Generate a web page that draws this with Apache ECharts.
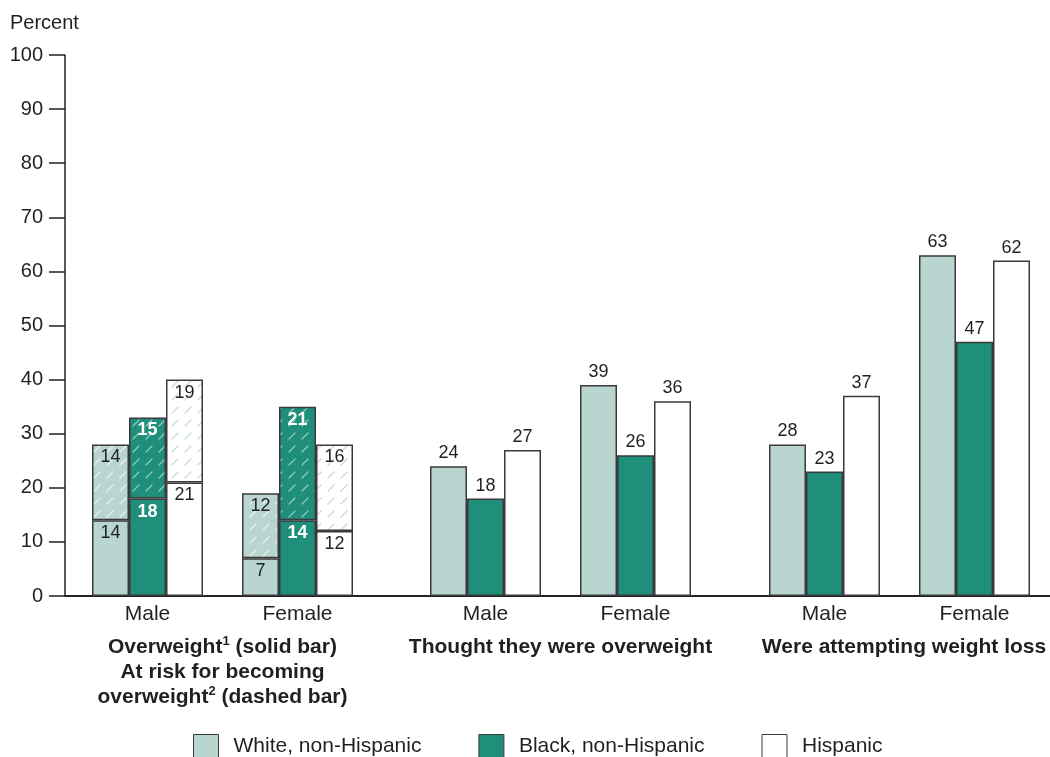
<!DOCTYPE html>
<html>
<head>
<meta charset="utf-8">
<script src="https://cdn.jsdelivr.net/npm/echarts@6/dist/echarts.min.js"></script>
<style>
  html, body { margin: 0; padding: 0; background: #fff; }
  #chart { width: 1050px; height: 757px; }
</style>
</head>
<body>
<div id="chart"></div>
<script>
// Categories and labels
const sexes = ['Male', 'Female'];
const races = ['White, non-Hispanic', 'Black, non-Hispanic', 'Hispanic'];
const yTicks = [0, 10, 20, 30, 40, 50, 60, 70, 80, 90, 100];

// Overweight (solid) and at risk for becoming overweight (dashed), by sex
const overweightWhite = [14, 7];
const overweightBlack = [18, 14];
const overweightHispanic = [21, 12];
const atRiskWhite = [14, 12];
const atRiskBlack = [15, 21];
const atRiskHispanic = [19, 16];

// Thought they were overweight
const thoughtWhite = [24, 39];
const thoughtBlack = [18, 26];
const thoughtHispanic = [27, 36];

// Were attempting weight loss
const attemptWhite = [28, 63];
const attemptBlack = [23, 47];
const attemptHispanic = [37, 62];

const FONT = '"Liberation Sans", Arial, Helvetica, sans-serif';
const TEXT = '#231f20';
const EDGE = '#3a3a3a';
const fills = ['#b9d5cf', '#1f8f7c', '#ffffff'];
const hatchLines = ['#e6f1ee', '#8ccabd', '#c6dcd7'];

// Diagonal dashed hatch tile for the "at risk" segments
function hatch(bg, line) {
  const c = document.createElement('canvas');
  c.width = 13; c.height = 13;
  const g = c.getContext('2d');
  g.fillStyle = bg;
  g.fillRect(0, 0, 13, 13);
  g.strokeStyle = line;
  g.lineWidth = 1.3;
  g.lineCap = 'round';
  g.beginPath();
  g.moveTo(3, 10);
  g.lineTo(9, 4);
  g.stroke();
  return { image: c, repeat: 'repeat' };
}

const chart = echarts.init(document.getElementById('chart'));

function barBase(i, axis) {
  return {
    type: 'bar',
    name: races[i],
    xAxisIndex: axis,
    yAxisIndex: axis,
    barWidth: 37,
    barGap: '0%',
    itemStyle: { color: fills[i], borderColor: EDGE, borderWidth: 1.5 },
    emphasis: { disabled: true }
  };
}

function insideLabel(i) {
  return {
    show: true,
    position: 'insideTop',
    distance: 4,
    fontFamily: FONT,
    fontSize: 18,
    color: i === 1 ? '#ffffff' : TEXT,
    fontWeight: i === 1 ? 'bold' : 'normal'
  };
}

function topLabel() {
  return { show: true, position: 'top', distance: 4, fontFamily: FONT, fontSize: 18, color: TEXT };
}

const series = [];
const solidSets = [overweightWhite, overweightBlack, overweightHispanic];
const dashedSets = [atRiskWhite, atRiskBlack, atRiskHispanic];
for (let i = 0; i < 3; i++) {
  series.push(Object.assign(barBase(i, 1), { stack: 's' + i, data: solidSets[i], label: insideLabel(i) }));
  const d = barBase(i, 1);
  d.itemStyle = { color: hatch(fills[i], hatchLines[i]), borderColor: EDGE, borderWidth: 1.5 };
  series.push(Object.assign(d, { stack: 's' + i, data: dashedSets[i], label: insideLabel(i) }));
}
const thoughtSets = [thoughtWhite, thoughtBlack, thoughtHispanic];
const attemptSets = [attemptWhite, attemptBlack, attemptHispanic];
for (let i = 0; i < 3; i++) {
  series.push(Object.assign(barBase(i, 2), { data: thoughtSets[i], label: topLabel() }));
}
for (let i = 0; i < 3; i++) {
  series.push(Object.assign(barBase(i, 3), { data: attemptSets[i], label: topLabel() }));
}

function groupNameStyle(shift) {
  return {
    fontFamily: FONT,
    fontSize: 21,
    fontWeight: 'bold',
    color: TEXT,
    lineHeight: 25,
    padding: [0, 0, 0, shift],
    rich: {
      sup: { fontFamily: FONT, fontSize: 13, fontWeight: 'bold', color: TEXT, verticalAlign: 'top', lineHeight: 18 }
    }
  };
}

function groupAxis(gridIndex, title, shift) {
  return {
    type: 'category',
    gridIndex: gridIndex,
    data: sexes,
    axisLine: { show: false },
    axisTick: { show: false },
    axisLabel: { fontFamily: FONT, fontSize: 21, color: TEXT, margin: 8 },
    name: title,
    nameLocation: 'middle',
    nameGap: 39,
    nameTextStyle: groupNameStyle(shift)
  };
}

function hiddenY(gridIndex) {
  return { type: 'value', gridIndex: gridIndex, min: 0, max: 100, show: false };
}

const option = {
  backgroundColor: '#ffffff',
  animation: false,
  title: {
    text: 'Percent',
    left: 10,
    top: 13,
    padding: 0,
    textStyle: { fontFamily: FONT, fontSize: 20, fontWeight: 'normal', color: TEXT }
  },
  legend: {
    left: 193,
    top: 734,
    padding: 0,
    itemWidth: 25,
    itemHeight: 24,
    itemGap: 57,
    icon: 'rect',
    selectedMode: false,
    textStyle: { fontFamily: FONT, fontSize: 21, color: TEXT, padding: [0, 0, 0, 10] },
    data: races.map((r, i) => ({ name: r, itemStyle: { color: fills[i], borderColor: EDGE, borderWidth: 1 } }))
  },
  grid: [
    { left: 65, right: 0, top: 55, bottom: 161 },
    { left: 72.5, width: 300, top: 55, bottom: 161 },
    { left: 410.5, width: 300, top: 55, bottom: 161 },
    { left: 749.5, width: 300, top: 55, bottom: 161 }
  ],
  xAxis: [
    {
      type: 'value', gridIndex: 0, min: 0, max: 1,
      axisLine: { show: true, onZero: false, lineStyle: { color: '#222', width: 2 } },
      axisTick: { show: false }, axisLabel: { show: false }, splitLine: { show: false }
    },
    groupAxis(1, 'Overweight{sup|1} (solid bar)\nAt risk for becoming\noverweight{sup|2} (dashed bar)', 0),
    groupAxis(2, 'Thought they were overweight', 0),
    groupAxis(3, 'Were attempting weight loss', 9)
  ],
  yAxis: [
    {
      type: 'value', gridIndex: 0,
      min: yTicks[0], max: yTicks[yTicks.length - 1], interval: yTicks[1] - yTicks[0],
      axisLine: { show: true, lineStyle: { color: '#222', width: 1.5 } },
      axisTick: { show: true, length: 16, lineStyle: { color: '#222', width: 1.5 } },
      axisLabel: { fontFamily: FONT, fontSize: 20, color: TEXT, margin: 22 },
      splitLine: { show: false }
    },
    hiddenY(1), hiddenY(2), hiddenY(3)
  ],
  series: series
};

chart.setOption(option);
</script>
</body>
</html>
